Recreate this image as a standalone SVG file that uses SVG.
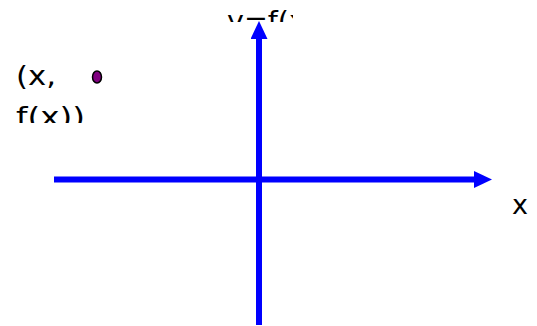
<svg xmlns="http://www.w3.org/2000/svg" width="537" height="326" viewBox="0 0 537 326">
  <style>
    .axis { stroke: #0000FF; stroke-width: 6; fill: none; }
    .lbl { font-family: "DejaVu Sans", "Liberation Sans", sans-serif; font-size: 27px; fill: #000000; }
  </style>
  <defs>
    <marker id="arrow" markerUnits="userSpaceOnUse" markerWidth="18" markerHeight="17" refX="0" refY="8.5" orient="auto">
      <path d="M0,0 L18,8.5 L0,17 z" fill="#0000FF"/>
    </marker>
    <clipPath id="clipPt"><rect x="0" y="55" width="130" height="68"/></clipPath>
    <clipPath id="clipY"><rect x="220" y="8" width="73" height="14"/></clipPath>
  </defs>
  <rect width="537" height="326" fill="#FFFFFF"/>
  <g id="connectors">
    <line class="axis" x1="54" y1="179.5" x2="474" y2="179.5" marker-end="url(#arrow)"/>
    <line class="axis" x1="259" y1="325" x2="259" y2="39" marker-end="url(#arrow)"/>
  </g>
  <g id="x-label">
    <text class="lbl" x="512" y="214">x</text>
  </g>
  <g id="y-label" clip-path="url(#clipY)">
    <text class="lbl" x="227" y="30" textLength="90" lengthAdjust="spacingAndGlyphs">y=f(x)</text>
  </g>
  <g id="point">
    <ellipse cx="97" cy="77" rx="4.5" ry="6" fill="#800080" stroke="#000000" stroke-width="1.5"/>
  </g>
  <g id="point-label" clip-path="url(#clipPt)">
    <text class="lbl" x="16" y="85" textLength="40" lengthAdjust="spacingAndGlyphs">(x,</text>
    <text class="lbl" x="16" y="126" textLength="69" lengthAdjust="spacingAndGlyphs">f(x))</text>
  </g>
</svg>
